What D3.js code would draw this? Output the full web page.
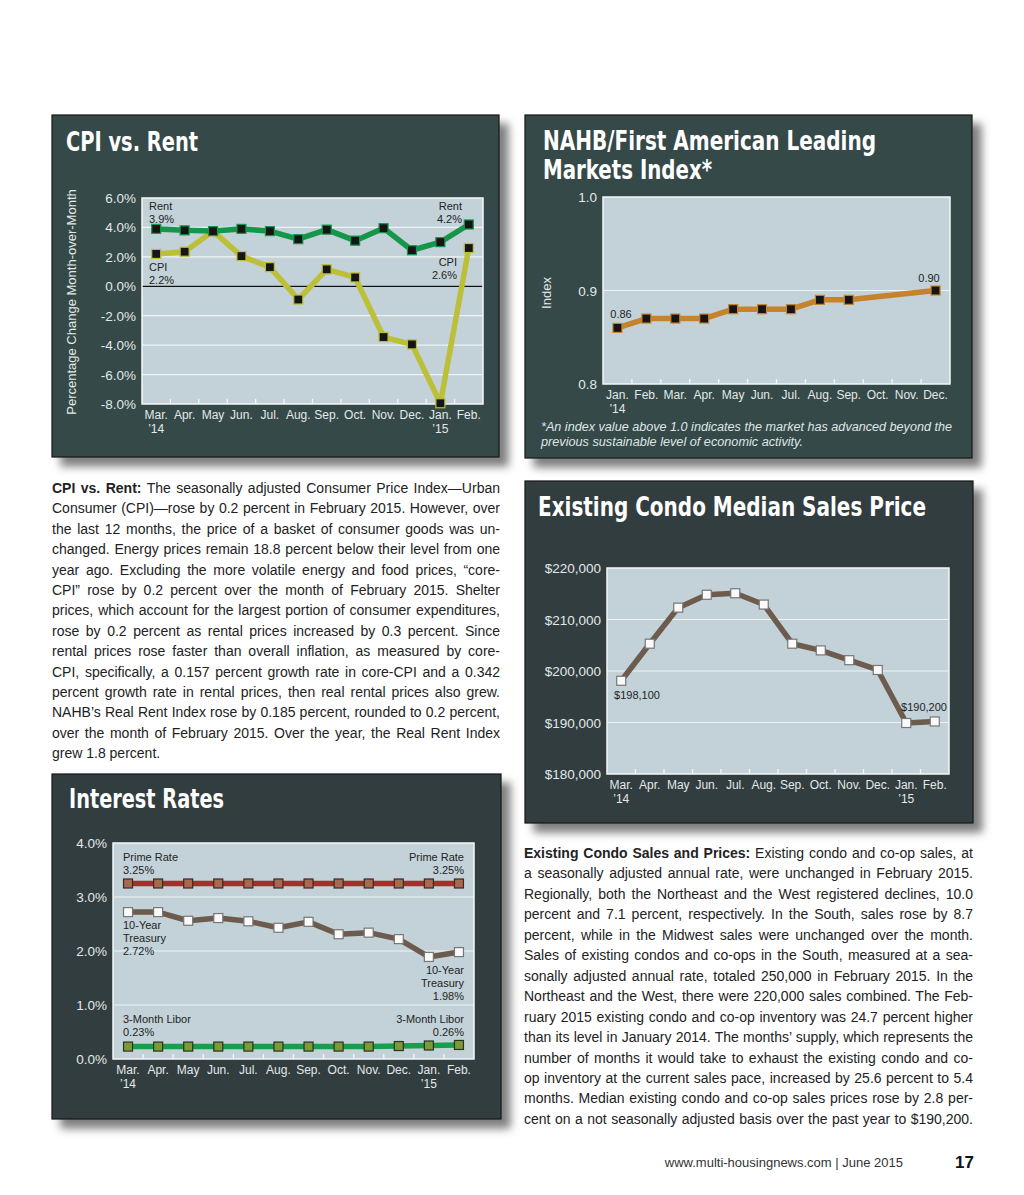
<!DOCTYPE html>
<html>
<head>
<meta charset="utf-8">
<script src="https://cdn.jsdelivr.net/npm/d3@7"></script>
<style>
  body { margin: 0; background: #fff; }
  svg { display: block; }
</style>
</head>
<body>
<svg id="page" width="1024" height="1195"></svg>
<script>
// ---- data ----
var months1 = ["Mar.", "Apr.", "May", "Jun.", "Jul.", "Aug.", "Sep.", "Oct.", "Nov.", "Dec.", "Jan.", "Feb."];
var years1 = ["’14", "", "", "", "", "", "", "", "", "", "’15", ""];

var rentValues = [3.9, 3.8, 3.75, 3.9, 3.75, 3.2, 3.85, 3.1, 3.95, 2.45, 3.0, 4.2];
var cpiValues = [2.2, 2.35, 3.75, 2.05, 1.3, -0.9, 1.15, 0.6, -3.45, -3.95, -7.95, 2.6];
var cpiTicks = [6, 4, 2, 0, -2, -4, -6, -8];

var months2 = ["Jan.", "Feb.", "Mar.", "Apr.", "May", "Jun.", "Jul.", "Aug.", "Sep.", "Oct.", "Nov.", "Dec."];
var years2 = ["’14", "", "", "", "", "", "", "", "", "", "", ""];
var nahbValues = [0.86, 0.87, 0.87, 0.87, 0.88, 0.88, 0.88, 0.89, 0.89, null, null, 0.90];
var nahbTicks = [1.0, 0.9, 0.8];

var condoValues = [198100, 205300, 212300, 214800, 215100, 212900, 205300, 204000, 202100, 200200, 189900, 190200];
var condoTicks = [220000, 210000, 200000, 190000, 180000];

var primeValues = [3.25, 3.25, 3.25, 3.25, 3.25, 3.25, 3.25, 3.25, 3.25, 3.25, 3.25, 3.25];
var treasuryValues = [2.72, 2.72, 2.56, 2.61, 2.55, 2.43, 2.54, 2.31, 2.34, 2.22, 1.89, 1.98];
var liborValues = [0.23, 0.23, 0.23, 0.23, 0.23, 0.23, 0.23, 0.23, 0.23, 0.24, 0.25, 0.26];
var rateTicks = [4, 3, 2, 1, 0];

var leftText = [
  ["CPI vs. Rent:", " The seasonally adjusted Consumer Price Index—Urban"],
  "Consumer (CPI)—rose by 0.2 percent in February 2015. However, over",
  "the last 12 months, the price of a basket of consumer goods was un-",
  "changed. Energy prices remain 18.8 percent below their level from one",
  "year ago. Excluding the more volatile energy and food prices, “core-",
  "CPI” rose by 0.2 percent over the month of February 2015. Shelter",
  "prices, which account for the largest portion of consumer expenditures,",
  "rose by 0.2 percent as rental prices increased by 0.3 percent. Since",
  "rental prices rose faster than overall inflation, as measured by core-",
  "CPI, specifically, a 0.157 percent growth rate in core-CPI and a 0.342",
  "percent growth rate in rental prices, then real rental prices also grew.",
  "NAHB’s Real Rent Index rose by 0.185 percent, rounded to 0.2 percent,",
  "over the month of February 2015. Over the year, the Real Rent Index",
  "grew 1.8 percent."
];
var rightText = [
  ["Existing Condo Sales and Prices:", " Existing condo and co-op sales, at"],
  "a seasonally adjusted annual rate, were unchanged in February 2015.",
  "Regionally, both the Northeast and the West registered declines, 10.0",
  "percent and 7.1 percent, respectively. In the South, sales rose by 8.7",
  "percent, while in the Midwest sales were unchanged over the month.",
  "Sales of existing condos and co-ops in the South, measured at a sea-",
  "sonally adjusted annual rate, totaled 250,000 in February 2015. In the",
  "Northeast and the West, there were 220,000 sales combined. The Feb-",
  "ruary 2015 existing condo and co-op inventory was 24.7 percent higher",
  "than its level in January 2014. The months’ supply, which represents the",
  "number of months it would take to exhaust the existing condo and co-",
  "op inventory at the current sales pace, increased by 25.6 percent to 5.4",
  "months. Median existing condo and co-op sales prices rose by 2.8 per-",
  "cent on a not seasonally adjusted basis over the past year to $190,200."
];

var sans = "'Liberation Sans', Arial, Helvetica, sans-serif";
var narrow = "'Liberation Sans Narrow', 'DejaVu Sans Condensed', 'Liberation Sans', sans-serif";

var svg = d3.select('#page');

// drop shadow for the dark boxes
var f = svg.append('defs').append('filter').attr('id', 'shadow')
  .attr('x', '-5%').attr('y', '-5%').attr('width', '115%').attr('height', '115%');
f.append('feDropShadow').attr('dx', 9).attr('dy', 9).attr('stdDeviation', 4)
  .attr('flood-color', '#000').attr('flood-opacity', 0.5);

function panel(x, y, w, h, fill) {
  svg.append('rect').attr('x', x).attr('y', y).attr('width', w).attr('height', h)
    .attr('fill', fill).attr('stroke', '#151a1a').attr('stroke-width', 1.2)
    .attr('filter', 'url(#shadow)');
}

function title(txt, x, y, len) {
  svg.append('text').attr('x', x).attr('y', y).text(txt)
    .attr('font-family', narrow).attr('font-weight', 'bold').attr('font-size', 26)
    .attr('fill', '#fff').attr('textLength', len).attr('lengthAdjust', 'spacingAndGlyphs');
}

// one line chart inside a panel
function lineChart(o) {
  var g = svg.append('g');
  var n = o.months.length;
  var x = d3.scaleBand().domain(d3.range(n)).range([o.left, o.right]);
  var bw = x.bandwidth();
  var cx = function (i) { return x(i) + bw / 2; };
  var y = d3.scaleLinear().domain(o.domain).range([o.bottom, o.top]);

  g.append('rect').attr('x', o.left).attr('y', o.top)
    .attr('width', o.right - o.left).attr('height', o.bottom - o.top)
    .attr('fill', '#c2d2d8');

  g.selectAll('.grid').data(o.ticks.filter(function (t) { return t !== o.domain[0] && t !== o.domain[1]; }))
    .enter().append('line')
    .attr('x1', o.left).attr('x2', o.right)
    .attr('y1', function (d) { return y(d); }).attr('y2', function (d) { return y(d); })
    .attr('stroke', '#eef3f5').attr('stroke-width', 1.2);

  if (o.zero) {
    g.append('line').attr('x1', o.left).attr('x2', o.right)
      .attr('y1', y(0)).attr('y2', y(0)).attr('stroke', '#111').attr('stroke-width', 1.3);
  }

  g.append('rect').attr('x', o.left).attr('y', o.top)
    .attr('width', o.right - o.left).attr('height', o.bottom - o.top)
    .attr('fill', 'none').attr('stroke', '#f4f7f8').attr('stroke-width', 1.5);

  // small ticks at the month boundaries
  g.selectAll('.xt').data(d3.range(1, n)).enter().append('line')
    .attr('x1', function (i) { return x(i); }).attr('x2', function (i) { return x(i); })
    .attr('y1', o.bottom).attr('y2', o.bottom - 5)
    .attr('stroke', '#f4f7f8').attr('stroke-width', 1.3);

  g.selectAll('.yl').data(o.ticks).enter().append('text')
    .attr('x', o.left - 6).attr('y', function (d) { return y(d) + 5; })
    .attr('text-anchor', 'end').attr('font-family', sans).attr('font-size', 13.5)
    .attr('fill', '#e3e8e8').text(o.format);

  g.selectAll('.xl').data(o.months).enter().append('text')
    .attr('x', function (d, i) { return cx(i); }).attr('y', o.bottom + 15)
    .attr('text-anchor', 'middle').attr('font-family', sans).attr('font-size', 12)
    .attr('fill', '#e3e8e8').text(function (d) { return d; });
  g.selectAll('.yr').data(o.years).enter().append('text')
    .attr('x', function (d, i) { return cx(i); }).attr('y', o.bottom + 29)
    .attr('text-anchor', 'middle').attr('font-family', sans).attr('font-size', 12)
    .attr('fill', '#e3e8e8').text(function (d) { return d; });

  if (o.ylabel) {
    g.append('text').attr('transform', 'translate(' + o.ylabel.x + ',' + o.ylabel.y + ') rotate(-90)')
      .attr('text-anchor', 'middle').attr('font-family', sans).attr('font-size', o.ylabel.size)
      .attr('fill', '#e3e8e8').text(o.ylabel.text);
  }

  o.series.forEach(function (s) {
    var pts = s.values.map(function (v, i) { return { i: i, v: v }; })
      .filter(function (p) { return p.v !== null; });
    var line = d3.line().x(function (p) { return cx(p.i); }).y(function (p) { return y(p.v); });
    g.append('path').datum(pts).attr('d', line).attr('fill', 'none')
      .attr('stroke', s.color).attr('stroke-width', s.width || 5.5)
      .attr('stroke-linejoin', 'round');
    g.selectAll(null).data(pts).enter().append('rect')
      .attr('x', function (p) { return cx(p.i) - 4.5; })
      .attr('y', function (p) { return y(p.v) - 4.5; })
      .attr('width', 9).attr('height', 9)
      .attr('fill', s.mFill).attr('stroke', s.mStroke).attr('stroke-width', 1.2);
  });

  (o.notes || []).forEach(function (nt) {
    nt.lines.forEach(function (l, k) {
      g.append('text').attr('x', nt.x).attr('y', nt.y + k * 13)
        .attr('text-anchor', nt.anchor).attr('font-family', sans).attr('font-size', 11)
        .attr('fill', '#1e2424').text(l);
    });
  });
}

// ---- CPI vs. Rent ----
panel(52, 115, 447, 342, '#36494a');
title('CPI vs. Rent', 66, 151, 132);
lineChart({
  left: 142, right: 483, top: 198, bottom: 404,
  domain: [-8, 6], ticks: cpiTicks, zero: true,
  format: function (d) { return d.toFixed(1) + '%'; },
  months: months1, years: years1,
  ylabel: { x: 76, y: 302, size: 13, text: 'Percentage Change Month-over-Month' },
  series: [
    { values: cpiValues, color: '#bcbf38', mFill: '#151515', mStroke: '#bcbf38' },
    { values: rentValues, color: '#15964b', mFill: '#151515', mStroke: '#15964b' }
  ],
  notes: [
    { x: 149, y: 210, anchor: 'start', lines: ['Rent', '3.9%'] },
    { x: 149, y: 271, anchor: 'start', lines: ['CPI', '2.2%'] },
    { x: 462, y: 210, anchor: 'end', lines: ['Rent', '4.2%'] },
    { x: 457, y: 266, anchor: 'end', lines: ['CPI', '2.6%'] }
  ]
});

// ---- NAHB ----
panel(525, 115, 447, 343, '#36494a');
title('NAHB/First American Leading', 543, 150, 333);
title('Markets Index*', 543, 179, 169);
lineChart({
  left: 603, right: 950, top: 197, bottom: 384,
  domain: [0.8, 1.0], ticks: nahbTicks,
  format: function (d) { return d.toFixed(1); },
  months: months2, years: years2,
  ylabel: { x: 551, y: 293, size: 13, text: 'Index' },
  series: [
    { values: nahbValues, color: '#c5832c', mFill: '#151515', mStroke: '#c5832c' }
  ],
  notes: [
    { x: 621, y: 318, anchor: 'middle', lines: ['0.86'] },
    { x: 929, y: 282, anchor: 'middle', lines: ['0.90'] }
  ]
});
svg.append('text').attr('x', 541).attr('y', 431).attr('font-family', sans)
  .attr('font-style', 'italic').attr('font-size', 12).attr('fill', '#dfe6e6')
  .attr('textLength', 411).attr('lengthAdjust', 'spacingAndGlyphs')
  .text('*An index value above 1.0 indicates the market has advanced beyond the');
svg.append('text').attr('x', 541).attr('y', 446).attr('font-family', sans)
  .attr('font-style', 'italic').attr('font-size', 12).attr('fill', '#dfe6e6')
  .attr('textLength', 262).attr('lengthAdjust', 'spacingAndGlyphs')
  .text('previous sustainable level of economic activity.');

// ---- Condo ----
panel(525, 481, 448, 342, '#323d40');
title('Existing Condo Median Sales Price', 538, 516, 388);
lineChart({
  left: 607, right: 949, top: 568, bottom: 774,
  domain: [180000, 220000], ticks: condoTicks,
  format: d3.format('$,'),
  months: months1, years: years1,
  series: [
    { values: condoValues, color: '#6d5b4d', mFill: '#fafafa', mStroke: '#777' }
  ],
  notes: [
    { x: 637, y: 699, anchor: 'middle', lines: ['$198,100'] },
    { x: 924, y: 711, anchor: 'middle', lines: ['$190,200'] }
  ]
});

// ---- Interest Rates ----
panel(52, 774, 449, 345, '#323d40');
title('Interest Rates', 69, 808, 155);
lineChart({
  left: 113, right: 474, top: 843, bottom: 1059,
  domain: [0, 4], ticks: rateTicks,
  format: function (d) { return d.toFixed(1) + '%'; },
  months: months1, years: years1,
  series: [
    { values: primeValues, color: '#a5302b', mFill: '#a8694f', mStroke: '#3a2a25' },
    { values: treasuryValues, color: '#6d5b4d', mFill: '#fafafa', mStroke: '#777' },
    { values: liborValues, color: '#16a04b', mFill: '#7c9a37', mStroke: '#2a3320' }
  ],
  notes: [
    { x: 123, y: 861, anchor: 'start', lines: ['Prime Rate', '3.25%'] },
    { x: 464, y: 861, anchor: 'end', lines: ['Prime Rate', '3.25%'] },
    { x: 123, y: 929, anchor: 'start', lines: ['10-Year', 'Treasury', '2.72%'] },
    { x: 464, y: 974, anchor: 'end', lines: ['10-Year', 'Treasury', '1.98%'] },
    { x: 123, y: 1023, anchor: 'start', lines: ['3-Month Libor', '0.23%'] },
    { x: 464, y: 1023, anchor: 'end', lines: ['3-Month Libor', '0.26%'] }
  ]
});

// ---- body text, justified line by line ----
function column(lines, x, y0, width, lead, justifyLast) {
  lines.forEach(function (l, k) {
    var t = svg.append('text').attr('x', x).attr('y', y0 + k * lead)
      .attr('font-family', sans).attr('font-size', 14).attr('fill', '#222');
    var full;
    if (Array.isArray(l)) {
      t.append('tspan').attr('font-weight', 'bold').text(l[0]);
      t.append('tspan').text(l[1]);
      full = l[0] + l[1];
    } else {
      t.text(l);
      full = l;
    }
    if (k < lines.length - 1 || justifyLast) {
      var w = t.node().getComputedTextLength();
      var spaces = full.split(' ').length - 1;
      if (spaces > 0) t.attr('word-spacing', (width - w) / spaces);
    }
  });
}
column(leftText, 52, 493, 448, 20.4, false);
column(rightText, 524, 858, 449, 20.45, true);

// ---- footer ----
svg.append('text').attr('x', 903).attr('y', 1167).attr('text-anchor', 'end')
  .attr('font-family', sans).attr('font-size', 13).attr('fill', '#333')
  .text('www.multi-housingnews.com  | June 2015');
svg.append('text').attr('x', 955).attr('y', 1168)
  .attr('font-family', sans).attr('font-size', 17).attr('font-weight', 'bold').attr('fill', '#111')
  .text('17');
</script>
</body>
</html>
